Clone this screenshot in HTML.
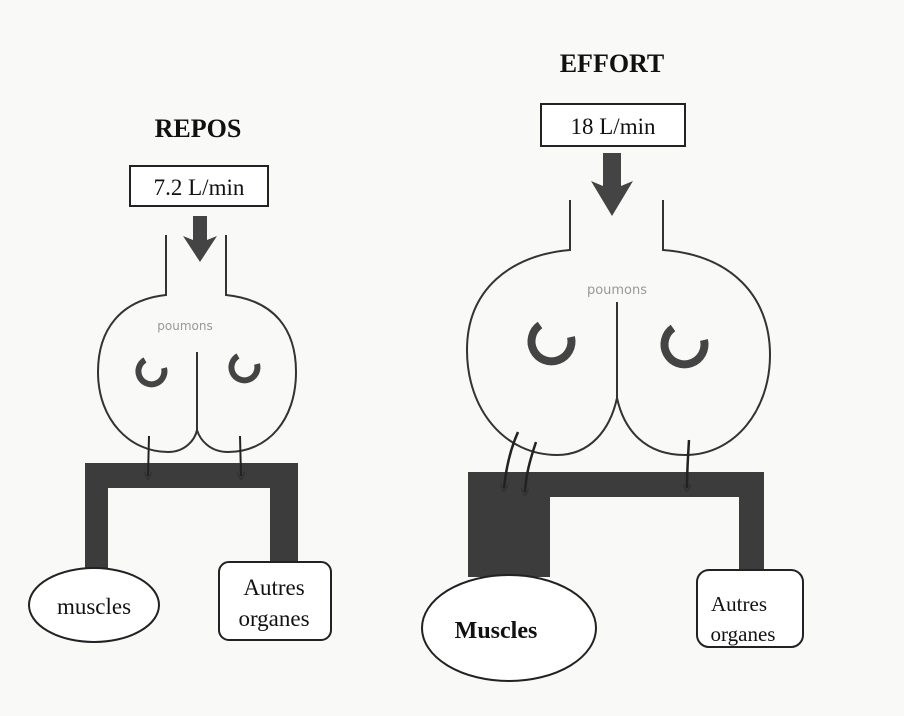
<!DOCTYPE html>
<html><head><style>
html,body{margin:0;padding:0;background:#fafafa;}
svg{display:block;}
text{font-family:"Liberation Serif",serif;fill:#111;}
</style></head><body>
<svg width="904" height="716" viewBox="0 0 904 716" xmlns="http://www.w3.org/2000/svg">
<defs>
<marker id="ah" markerWidth="8" markerHeight="8" refX="4" refY="4" orient="auto" markerUnits="userSpaceOnUse"><path d="M0 0 L8 4 L0 8" fill="none" stroke="#333" stroke-width="2"/></marker>
</defs>
<rect width="904" height="716" fill="#f9f9f8"/>
<!-- LEFT -->
<text x="198" y="137" font-size="26" font-weight="bold" text-anchor="middle">REPOS</text>
<rect x="130" y="166" width="138" height="40" fill="#fff" stroke="#222" stroke-width="2"/>
<text x="199" y="195" font-size="23" text-anchor="middle">7.2 L/min</text>
<path d="M193 216 L207 216 L207 240 L217 236 L200 262 L183 236 L193 240 Z" fill="#444"/>
<g fill="none" stroke="#333" stroke-width="2">
<path d="M166 235 L166 295 C120 300 98 330 98 372 C98 420 130 452 168 452 C185 452 195 440 197 430 C200 440 210 452 228 452 C268 452 296 420 296 372 C296 330 275 300 226 295 L226 235"/>
<path d="M197 352 L197 430"/>
</g>
<text x="185" y="330" font-size="12" style="fill:#999;font-family:'DejaVu Sans',sans-serif" text-anchor="middle">poumons</text>
<g fill="none" stroke="#444" stroke-width="6">
<path d="M145 360 A13 13 0 1 0 164 368"/>
<path d="M238 356 A13 13 0 1 0 257 364"/>
</g>
<path d="M85 463 H298 V568 H270 V488 H108 V568 H85 Z" fill="#3c3c3c"/>
<g stroke="#222" stroke-width="2" fill="none"><path d="M149 436 L148 476" marker-end="url(#ah)"/><path d="M240 436 L241 476" marker-end="url(#ah)"/></g>
<ellipse cx="94" cy="605" rx="65" ry="37" fill="#fff" stroke="#222" stroke-width="2"/>
<text x="94" y="614" font-size="23" text-anchor="middle">muscles</text>
<rect x="219" y="562" width="112" height="78" rx="10" fill="#fff" stroke="#222" stroke-width="2"/>
<text x="274" y="595" font-size="23" text-anchor="middle">Autres</text>
<text x="274" y="626" font-size="23" text-anchor="middle">organes</text>
<!-- RIGHT -->
<text x="612" y="72" font-size="26" font-weight="bold" text-anchor="middle">EFFORT</text>
<rect x="541" y="104" width="144" height="42" fill="#fff" stroke="#222" stroke-width="2"/>
<text x="613" y="134" font-size="23" text-anchor="middle">18 L/min</text>
<path d="M603 153 L621 153 L621 186 L633 181 L612 216 L591 181 L603 186 Z" fill="#444"/>
<g fill="none" stroke="#333" stroke-width="2">
<path d="M570 200 L570 250 C510 255 467 290 467 350 C467 410 505 455 557 455 C590 455 610 430 617 398 C624 430 645 455 685 455 C735 455 770 410 770 355 C770 295 730 255 663 250 L663 200"/>
<path d="M617 302 L617 398"/>
</g>
<text x="617" y="294" font-size="13" style="fill:#999;font-family:'DejaVu Sans',sans-serif" text-anchor="middle">poumons</text>
<g fill="none" stroke="#444" stroke-width="8">
<path d="M540 325 A20 20 0 1 0 571 337"/>
<path d="M673 328 A20 20 0 1 0 704 340"/>
</g>
<path d="M468 472 H764 V570 H739 V497 H550 V577 H468 Z" fill="#3c3c3c"/>
<g stroke="#222" stroke-width="2.5" fill="none"><path d="M518 432 C510 450 506 468 504 488" marker-end="url(#ah)"/><path d="M536 442 C530 460 526 474 525 492" marker-end="url(#ah)"/><path d="M689 440 C688 458 687 470 687 488" marker-end="url(#ah)"/></g>
<ellipse cx="509" cy="628" rx="87" ry="53" fill="#fff" stroke="#222" stroke-width="2"/>
<text x="496" y="638" font-size="24" font-weight="bold" text-anchor="middle">Muscles</text>
<rect x="697" y="570" width="106" height="77" rx="12" fill="#fff" stroke="#222" stroke-width="2"/>
<text x="739" y="611" font-size="21" text-anchor="middle">Autres</text>
<text x="743" y="641" font-size="21" text-anchor="middle">organes</text>
</svg>
</body></html>
